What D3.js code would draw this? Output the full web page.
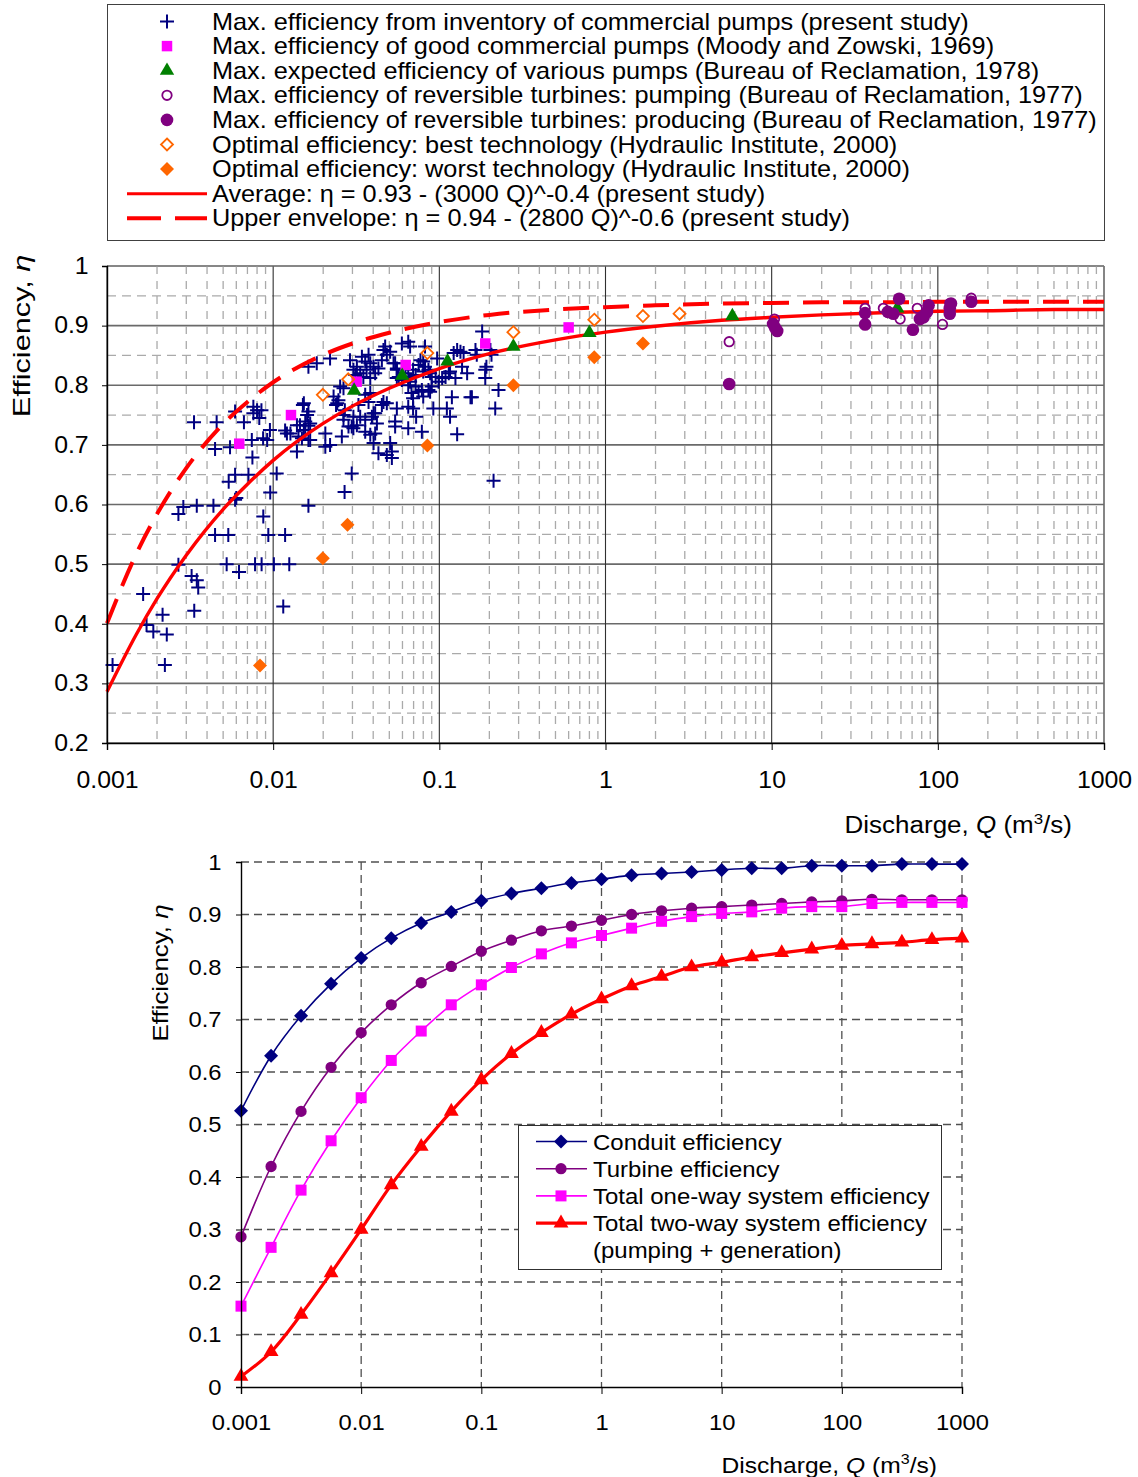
<!DOCTYPE html>
<html>
<head>
<meta charset="utf-8">
<script src="https://cdn.jsdelivr.net/npm/d3@7"></script>
<style>
  body { margin: 0; background: #fff; }
  svg text { font-family: 'Liberation Sans', Arial, sans-serif; fill: #000; }
</style>
</head>
<body>
<svg id="chart" width="1138" height="1477"></svg>
<script>
// ---------- upper chart data: [Q (m3/s), efficiency] ----------
const inventoryPumps = [
  [0.00108,0.331],[0.00165,0.450],[0.00173,0.398],[0.0019,0.387],[0.00216,0.415],[0.00229,0.382],[0.00223,0.331],
  [0.00269,0.499],[0.00323,0.480],[0.00347,0.473],[0.00354,0.461],[0.00335,0.422],[0.00269,0.584],[0.00288,0.596],
  [0.00347,0.598],[0.00437,0.598],[0.00447,0.549],[0.00537,0.549],[0.0059,0.608],[0.00872,0.580],[0.00935,0.549],
  [0.0118,0.549],[0.00525,0.500],[0.00623,0.487],[0.00778,0.500],[0.00852,0.500],[0.0101,0.500],[0.0125,0.500],
  [0.0115,0.429],[0.0163,0.598],
  [0.00334,0.738],[0.00457,0.738],[0.0059,0.756],[0.00667,0.738],[0.0076,0.764],[0.0076,0.753],[0.008,0.758],
  [0.00825,0.745],[0.0085,0.758],[0.00956,0.725],[0.0087,0.711],[0.0092,0.708],[0.00744,0.708],[0.00447,0.693],
  [0.0055,0.696],[0.0075,0.679],[0.0054,0.638],[0.0059,0.650],[0.0071,0.650],[0.006,0.611],[0.0096,0.620],
  [0.0105,0.652],[0.0118,0.724],[0.0121,0.719],[0.0139,0.689],[0.0151,0.767],[0.016,0.750],[0.0145,0.733],
  [0.0156,0.725],[0.0163,0.708],[0.0167,0.736],[0.0139,0.733],[0.0153,0.725],[0.0163,0.732],[0.0142,0.714],
  [0.0149,0.711],[0.0127,0.719],[0.0167,0.708],[0.0206,0.719],[0.022,0.700],[0.0206,0.697],[0.0265,0.750],
  [0.0304,0.747],[0.0297,0.731],[0.0297,0.652],[0.0269,0.621],
  [0.0163,0.831],[0.0183,0.837],[0.022,0.845],[0.029,0.842],[0.0304,0.826],[0.0312,0.817],[0.0231,0.781],
  [0.0247,0.775],[0.0243,0.770],[0.0253,0.798],[0.0265,0.795],[0.0239,0.767],[0.0153,0.770],[0.0163,0.756],
  [0.0156,0.739],[0.0265,0.742],[0.027,0.758],[0.0284,0.731],[0.0304,0.728],[0.0319,0.733],[0.0259,0.714],
  [0.0319,0.831],[0.0342,0.848],[0.0358,0.840],[0.0375,0.851],[0.0384,0.837],[0.0402,0.831],[0.0365,0.826],
  [0.0411,0.820],[0.043,0.828],[0.0451,0.842],[0.0461,0.859],[0.0472,0.865],[0.0483,0.851],[0.0506,0.856],
  [0.053,0.837],[0.0555,0.828],[0.0384,0.812],[0.0349,0.814],[0.0334,0.820],[0.0358,0.784],[0.0384,0.787],
  [0.0375,0.772],[0.0326,0.767],[0.0334,0.747],[0.0358,0.742],[0.0393,0.747],[0.0402,0.753],[0.0421,0.736],
  [0.0411,0.753],[0.0358,0.722],[0.0384,0.717],[0.0411,0.719],[0.0451,0.767],[0.0461,0.772],[0.0483,0.770],
  [0.0402,0.703],[0.043,0.686],[0.0483,0.683],[0.0518,0.689],[0.0506,0.703],[0.0518,0.678],[0.0542,0.739],
  [0.0542,0.731],[0.0555,0.761],[0.0555,0.812],[0.0555,0.826],
  [0.0595,0.870],[0.065,0.873],[0.0667,0.865],[0.082,0.865],[0.0542,0.837],[0.057,0.814],[0.0595,0.809],
  [0.0625,0.820],[0.065,0.814],[0.0667,0.806],[0.0695,0.826],[0.072,0.817],[0.075,0.834],[0.077,0.842],
  [0.080,0.840],[0.082,0.831],[0.080,0.823],[0.086,0.826],[0.088,0.820],[0.09,0.814],[0.095,0.814],
  [0.097,0.845],[0.099,0.806],[0.104,0.812],[0.109,0.814],[0.114,0.820],[0.116,0.823],[0.125,0.812],
  [0.122,0.854],[0.128,0.859],[0.134,0.856],[0.14,0.854],[0.137,0.831],[0.147,0.820],[0.165,0.859],
  [0.168,0.851],[0.181,0.890],[0.189,0.826],[0.192,0.831],[0.189,0.812],[0.203,0.859],[0.206,0.851],
  [0.065,0.800],[0.072,0.798],[0.0785,0.792],[0.086,0.792],[0.09,0.798],[0.068,0.787],[0.0695,0.778],
  [0.075,0.789],[0.080,0.781],[0.088,0.789],[0.065,0.764],[0.0695,0.761],[0.0725,0.747],[0.092,0.761],
  [0.111,0.761],[0.116,0.747],[0.119,0.780],[0.154,0.780],[0.157,0.780],[0.227,0.792],[0.217,0.761],
  [0.065,0.728],[0.0785,0.722],[0.128,0.718],[0.212,0.640]
];
const moodyZowski = [[0.00625,0.702],[0.0128,0.750],[0.0318,0.806],[0.0627,0.834],[0.189,0.870],[0.60,0.897]];
const reclamation1978 = [[0.0307,0.791],[0.0598,0.816],[0.112,0.840],[0.279,0.865],[0.80,0.888],[5.8,0.916],[57,0.929]];
const reversiblePumping = [[5.55,0.873],[10.4,0.911],[36.5,0.929],[47,0.929],[59.3,0.911],[75.2,0.929],[106.7,0.902],[118,0.937],[159,0.946]];
const reversibleProducing = [[5.55,0.802],[10.2,0.903],[10.8,0.891],[10.5,0.896],[36.5,0.921],[36.5,0.902],[50,0.923],[54,0.920],
  [58.5,0.945],[70.8,0.893],[78,0.911],[82,0.914],[86,0.923],[88,0.934],[118,0.929],[118,0.920],[120,0.937],[159,0.940]];
const hiBest = [[0.0199,0.784],[0.0283,0.810],[0.0847,0.854],[0.279,0.889],[0.856,0.910],[1.68,0.916],[2.79,0.920]];
const hiWorst = [[0.00833,0.330],[0.0199,0.510],[0.028,0.566],[0.0847,0.699],[0.279,0.800],[0.856,0.847],[1.68,0.870]];

// fitted curves
const curveQ = [0.001,0.0015,0.002,0.003,0.005,0.007,0.01,0.02,0.03,0.05,0.1,0.2,0.5,1,2,5,10,20,50,100,200,500,1000];
const averageEta = [0.286,0.382,0.442,0.515,0.592,0.634,0.674,0.736,0.765,0.795,0.828,0.853,0.876,0.889,0.899,0.909,0.914,0.918,0.922,0.924,0.925,0.927,0.927];
const upperEta = [0.401,0.517,0.584,0.661,0.735,0.772,0.805,0.851,0.870,0.888,0.906,0.918,0.927,0.931,0.934,0.937,0.938,0.939,0.939,0.940,0.940,0.940,0.940];

const topLegendLabels = [
  'Max. efficiency from inventory of commercial pumps (present study)',
  'Max. efficiency of good commercial pumps (Moody and Zowski, 1969)',
  'Max. expected efficiency of various pumps (Bureau of Reclamation, 1978)',
  'Max. efficiency of reversible turbines: pumping (Bureau of Reclamation, 1977)',
  'Max. efficiency of reversible turbines: producing (Bureau of Reclamation, 1977)',
  'Optimal efficiency: best technology (Hydraulic Institute, 2000)',
  'Optimal efficiency: worst technology (Hydraulic Institute, 2000)',
  'Average: η = 0.93 - (3000 Q)^-0.4 (present study)',
  'Upper envelope: η = 0.94 - (2800 Q)^-0.6 (present study)'
];

// ---------- lower chart data ----------
const dischargeQ = [0.001,0.00178,0.00316,0.00562,0.01,0.0178,0.0316,0.0562,0.1,0.178,0.316,0.562,1,
  1.78,3.16,5.62,10,17.8,31.6,56.2,100,178,316,562,1000];
const conduitEff = [0.526,0.631,0.707,0.768,0.817,0.855,0.884,0.905,0.926,0.940,0.950,0.960,0.967,
  0.975,0.978,0.981,0.985,0.988,0.988,0.993,0.993,0.993,0.996,0.996,0.996];
const turbineEff = [0.286,0.420,0.525,0.609,0.675,0.728,0.770,0.801,0.830,0.851,0.869,0.878,0.889,
  0.900,0.907,0.912,0.915,0.918,0.921,0.924,0.926,0.929,0.928,0.928,0.928];
const oneWayEff = [0.154,0.266,0.375,0.469,0.551,0.622,0.678,0.728,0.766,0.799,0.825,0.846,0.860,
  0.874,0.887,0.896,0.902,0.905,0.912,0.915,0.915,0.921,0.923,0.923,0.923];
const twoWayEff = [0.020,0.067,0.138,0.217,0.300,0.385,0.458,0.525,0.585,0.635,0.675,0.710,0.739,
  0.764,0.782,0.800,0.809,0.819,0.827,0.834,0.841,0.844,0.847,0.852,0.855];
const bottomLegendLabels = ['Conduit efficiency', 'Turbine efficiency', 'Total one-way system efficiency',
  'Total two-way system efficiency', '(pumping + generation)'];

const decadeTicks = [0.001, 0.01, 0.1, 1, 10, 100, 1000];

// ---------- helpers ----------
const svg = d3.select('#chart');
const isDecade = v => Math.abs(Math.log10(v) - Math.round(Math.log10(v))) < 1e-6;
const isTenth = v => Math.abs(v * 10 - Math.round(v * 10)) < 1e-6;
const diamond = r => `M0,${-r}L${r},0L0,${r}L${-r},0Z`;

const markers = {
  cross: { d: 'M-7,0H7M0,-7V7', fill: 'none', stroke: '#000080', sw: 2 },
  square: { d: d3.symbol(d3.symbolSquare, 110)(), fill: '#FF00FF', stroke: 'none', sw: 0 },
  triangle: { d: d3.symbol(d3.symbolTriangle, 90)(), fill: '#008000', stroke: 'none', sw: 0 },
  circleOpen: { d: d3.symbol(d3.symbolCircle, 70)(), fill: 'none', stroke: '#800080', sw: 1.8 },
  circleFilled: { d: d3.symbol(d3.symbolCircle, 125)(), fill: '#800080', stroke: 'none', sw: 0 },
  diamondOpen: { d: diamond(6), fill: 'none', stroke: '#FF6600', sw: 1.8 },
  diamondFilled: { d: diamond(7), fill: '#FF6600', stroke: 'none', sw: 0 },
  navyDiamond: { d: diamond(7), fill: '#000080', stroke: 'none', sw: 0 },
  purpleCircle: { d: d3.symbol(d3.symbolCircle, 100)(), fill: '#800080', stroke: 'none', sw: 0 },
  pinkSquare: { d: d3.symbol(d3.symbolSquare, 121)(), fill: '#FF00FF', stroke: 'none', sw: 0 },
  redTriangle: { d: d3.symbol(d3.symbolTriangle, 95)(), fill: '#FF0000', stroke: 'none', sw: 0 }
};

const drawMarkers = (g, pts, m) => {
  g.selectAll(null)
    .data(pts)
    .join('path')
    .attr('transform', d => `translate(${d[0]},${d[1]})`)
    .attr('d', m.d)
    .attr('fill', m.fill)
    .attr('stroke', m.stroke)
    .attr('stroke-width', m.sw);
};

// the original lettering is a little wider than Liberation Sans, so text gets a horizontal stretch
const addTitle = (g, x, y, parts, rotate, stretch) => {
  const t = g.append('text')
    .attr('transform', `translate(${x},${y})` + (rotate ? ' rotate(-90)' : '') + ` scale(${stretch},1)`)
    .attr('text-anchor', rotate ? 'middle' : 'end')
    .attr('font-size', parts.size);
  parts.items.forEach(p => {
    const s = t.append('tspan').text(p.t);
    if (p.i) s.attr('font-style', 'italic');
    if (p.sup) s.attr('dy', -9).attr('font-size', parts.size * 0.65);
    if (p.after) s.attr('dy', 9);
  });
};

const xTitle = size => ({ size, items: [{ t: 'Discharge, ' }, { t: 'Q', i: true }, { t: '  (m' }, { t: '3', sup: true }, { t: '/s)', after: true }] });
const yTitle = size => ({ size, items: [{ t: 'Efficiency, ' }, { t: 'η', i: true }] });

// ================= UPPER CHART =================
const x1 = d3.scaleLog().domain([0.001, 1000]).range([107, 1104]);
const y1 = d3.scaleLinear().domain([0.2, 1]).range([743, 266]);
const upper = svg.append('g');

//grid
upper.selectAll(null).data(y1.ticks(16)).join('line')
  .attr('x1', 107).attr('x2', 1104)
  .attr('y1', d => y1(d)).attr('y2', d => y1(d))
  .attr('stroke', d => isTenth(d) ? '#6a6a6a' : '#aaaaaa')
  .attr('stroke-width', d => isTenth(d) ? 1.6 : 1.3)
  .attr('stroke-dasharray', d => isTenth(d) ? null : '9,6');

upper.selectAll(null).data(x1.ticks()).join('line')
  .attr('x1', d => x1(d)).attr('x2', d => x1(d))
  .attr('y1', 266).attr('y2', 743)
  .attr('stroke', d => isDecade(d) ? '#303030' : '#aaaaaa')
  .attr('stroke-width', d => isDecade(d) ? 1.1 : 1.3)
  .attr('stroke-dasharray', d => isDecade(d) ? null : '8,7');

upper.append('line').attr('x1', 1104).attr('x2', 1104).attr('y1', 266).attr('y2', 743).attr('stroke', '#808080').attr('stroke-width', 1.2);
upper.append('line').attr('x1', 107).attr('x2', 1104).attr('y1', 266).attr('y2', 266).attr('stroke', '#808080').attr('stroke-width', 1.2);

// inventory crosses first
drawMarkers(upper, inventoryPumps.map(d => [x1(d[0]), y1(d[1])]), markers.cross);

// fitted curves
const curveLine = d3.line().x(d => x1(d[0])).y(d => y1(d[1])).curve(d3.curveMonotoneX);
upper.append('path')
  .attr('d', curveLine(curveQ.map((q, i) => [q, averageEta[i]])))
  .attr('fill', 'none').attr('stroke', '#FF0000').attr('stroke-width', 3.4);
upper.append('path')
  .attr('d', curveLine(curveQ.map((q, i) => [q, upperEta[i]])))
  .attr('fill', 'none').attr('stroke', '#FF0000').attr('stroke-width', 4)
  .attr('stroke-dasharray', '26,14');

const topSeries = [
  [moodyZowski, markers.square],
  [reclamation1978, markers.triangle],
  [reversibleProducing, markers.circleFilled],
  [reversiblePumping, markers.circleOpen],
  [hiBest, markers.diamondOpen],
  [hiWorst, markers.diamondFilled]
];
topSeries.forEach(([pts, m]) => drawMarkers(upper, pts.map(d => [x1(d[0]), y1(d[1])]), m));

// axes
const yAxis1 = upper.append('g').attr('transform', 'translate(107,0)')
  .call(d3.axisLeft(y1).tickValues(d3.range(2, 11).map(v => v / 10)).tickFormat(d3.format('')).tickSize(5).tickPadding(12));
const xAxis1 = upper.append('g').attr('transform', 'translate(0,743)')
  .call(d3.axisBottom(x1).tickValues(decadeTicks).tickFormat(d3.format('')).tickSize(7).tickPadding(22));
[yAxis1, xAxis1].forEach(a => {
  a.select('.domain').attr('stroke', '#000').attr('stroke-width', 1.4);
  a.selectAll('.tick line').attr('stroke', '#000');
  a.selectAll('.tick text').attr('font-size', 23).attr('transform', 'scale(1.08,1)')
    .attr('font-family', "'Liberation Sans', Arial, sans-serif");
});

addTitle(upper, 30, 336, yTitle(24), true, 1.28);
addTitle(upper, 1072, 833, xTitle(23), false, 1.13);

// legend
const legend1 = upper.append('g');
legend1.append('rect').attr('x', 107.5).attr('y', 4.5).attr('width', 997).attr('height', 236)
  .attr('fill', '#fff').attr('stroke', '#404040').attr('stroke-width', 1);
const legendMarkers = [markers.cross, markers.square, markers.triangle, markers.circleOpen, markers.circleFilled, markers.diamondOpen, markers.diamondFilled];
const rowY = i => 21.5 + i * 24.6;
legendMarkers.forEach((m, i) => drawMarkers(legend1, [[167, rowY(i)]], m));
legend1.append('line').attr('x1', 127).attr('x2', 207).attr('y1', rowY(7)).attr('y2', rowY(7))
  .attr('stroke', '#FF0000').attr('stroke-width', 3);
legend1.append('line').attr('x1', 127).attr('x2', 207).attr('y1', rowY(8)).attr('y2', rowY(8))
  .attr('stroke', '#FF0000').attr('stroke-width', 4).attr('stroke-dasharray', '34,14');
legend1.selectAll(null).data(topLegendLabels).join('text')
  .attr('transform', (d, i) => `translate(212,${rowY(i) + 8}) scale(1.1,1)`)
  .attr('font-size', 23)
  .text(d => d);

// ================= LOWER CHART =================
const x2 = d3.scaleLog().domain([0.001, 1000]).range([241, 962]);
const y2 = d3.scaleLinear().domain([0, 1]).range([1387, 862]);
const lower = svg.append('g');

lower.selectAll(null).data(d3.range(1, 11).map(v => v / 10)).join('line')
  .attr('x1', 241).attr('x2', 962)
  .attr('y1', d => y2(d)).attr('y2', d => y2(d))
  .attr('stroke', '#505050').attr('stroke-width', 1.3).attr('stroke-dasharray', '8,5');
lower.selectAll(null).data(decadeTicks.slice(1)).join('line')
  .attr('x1', d => x2(d)).attr('x2', d => x2(d))
  .attr('y1', 862).attr('y2', 1387)
  .attr('stroke', '#505050').attr('stroke-width', 1.3).attr('stroke-dasharray', '8,5');

const effSeries = [
  [conduitEff, '#000080', 1.6, markers.navyDiamond],
  [turbineEff, '#800080', 1.6, markers.purpleCircle],
  [oneWayEff, '#FF00FF', 1.6, markers.pinkSquare],
  [twoWayEff, '#FF0000', 3.2, markers.redTriangle]
];
const effLine = d3.line().x(d => x2(d[0])).y(d => y2(d[1])).curve(d3.curveCatmullRom);
effSeries.forEach(([vals, color, w, m]) => {
  const pts = dischargeQ.map((q, i) => [q, vals[i]]);
  lower.append('path').attr('d', effLine(pts))
    .attr('fill', 'none').attr('stroke', color).attr('stroke-width', w);
  drawMarkers(lower, pts.map(d => [x2(d[0]), y2(d[1])]), m);
});

const yAxis2 = lower.append('g').attr('transform', 'translate(241,0)')
  .call(d3.axisLeft(y2).tickValues(d3.range(0, 11).map(v => v / 10)).tickFormat(d3.format('')).tickSize(5).tickPadding(13));
const xAxis2 = lower.append('g').attr('transform', 'translate(0,1387)')
  .call(d3.axisBottom(x2).tickValues(decadeTicks).tickFormat(d3.format('')).tickSize(7).tickPadding(20));
[yAxis2, xAxis2].forEach(a => {
  a.select('.domain').attr('stroke', '#000').attr('stroke-width', 1.4);
  a.selectAll('.tick line').attr('stroke', '#000');
  a.selectAll('.tick text').attr('font-size', 22).attr('transform', 'scale(1.08,1)')
    .attr('font-family', "'Liberation Sans', Arial, sans-serif");
});

addTitle(lower, 168, 973, yTitle(22.5), true, 1.15);
addTitle(lower, 937, 1473, xTitle(22), false, 1.12);

// legend
const legend2 = lower.append('g');
legend2.append('rect').attr('x', 518.5).attr('y', 1125.5).attr('width', 423).attr('height', 144)
  .attr('fill', '#fff').attr('stroke', '#303030').attr('stroke-width', 1);
const row2 = i => 1141.5 + i * 27.2;
effSeries.forEach(([vals, color, w, m], i) => {
  legend2.append('line').attr('x1', 536).attr('x2', 587).attr('y1', row2(i)).attr('y2', row2(i))
    .attr('stroke', color).attr('stroke-width', w);
  drawMarkers(legend2, [[561, row2(i)]], m);
});
legend2.selectAll(null).data(bottomLegendLabels).join('text')
  .attr('transform', (d, i) => `translate(593,${row2(i) + 8}) scale(1.09,1)`)
  .attr('font-size', 22)
  .text(d => d);
</script>
</body>
</html>
